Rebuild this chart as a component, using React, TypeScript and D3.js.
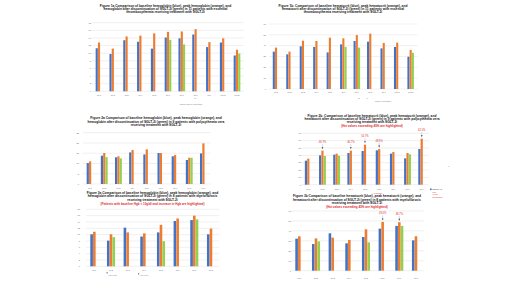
import React from "react";
import * as d3 from "d3";

const BLUE = "#4472C4";
const ORANGE = "#ED7D31";
const GREEN = "#92D050";
const RED = "#E0282E";

const pts11 = ["Pt 1", "Pt 2", "Pt 3", "Pt 4", "Pt 5", "Pt 6", "Pt 7", "Pt 8", "Pt 9", "Pt 10", "Pt 11"];
const pts9 = ["Pt 1", "Pt 2", "Pt 3", "Pt 4", "Pt 5", "Pt 6", "Pt 7", "Pt 8", "Pt 9"];
const pts8 = ["Pt 1", "Pt 2", "Pt 3", "Pt 4", "Pt 5", "Pt 6", "Pt 7", "Pt 8"];

// Figure 1a – hemoglobin, essential thrombocythemia
const hgbETBaseline = [11.3, 9.8, 13.4, 13.0, 11.2, 14.1, 13.9, 14.9, 11.6, 12.8, 9.4];
const hgbETPeak = [12.8, 11.2, 14.4, 14.6, 15.2, 15.6, 15.7, 16.3, 12.9, 13.9, 10.9];
const hgbETAfter = [null, null, null, null, null, 13.5, 12.3, null, null, null, 9.9];

// Figure 1b – hematocrit, essential thrombocythemia
const hctETBaseline = [34.5, 32.0, 39.4, 38.8, 33.8, 41.2, 44.3, 43.7, 37.5, 38.8, 29.8];
const hctETPeak = [38.2, 34.5, 44.6, 44.3, 47.4, 46.8, 49.8, 51.1, 42.5, 42.8, 36.0];
const hctETAfter = [null, null, null, null, null, 38.8, 38.2, null, null, null, 33.5];

// Figure 2a – hemoglobin, polycythemia vera
const hgbPVBaseline = [10.2, 13.8, 13.0, 15.4, 14.4, 15.1, 13.5, 11.7, 14.9];
const hgbPVPeak = [11.0, 15.1, 13.5, 16.6, 16.9, 15.1, 14.1, 12.8, 19.8];
const hgbPVAfter = [null, 13.1, 12.5, null, null, null, null, 12.8, null];

// Figure 2b – hematocrit, polycythemia vera
const hctPVBaseline = [32.7, 40.0, 40.9, 43.2, 45.9, 46.8, 42.3, 35.9, 48.6];
const hctPVPeak = [35.5, 46.4, 42.3, 46.4, 54.5, 48.6, 44.5, 43.2, 62.7];
const hctPVAfter = [null, 39.1, 39.5, null, null, null, null, 41.4, null];
const hctPVLabels = [null, "46.7%", null, "46.7%", "54.7%", "48.9%", null, null, "62.5%"];

// Figure 3a – hemoglobin, myelofibrosis
const hgbMFBaseline = [10.1, 8.1, 12.2, 9.4, 10.7, 14.3, 14.6, 10.1];
const hgbMFPeak = [10.9, 10.1, 10.7, 10.4, 13.1, 15.1, 16.0, 11.9];
const hgbMFAfter = [null, 9.2, null, null, 7.9, null, 14.8, null];

// Figure 3b – hematocrit, myelofibrosis
const hctMFBaseline = [32.2, 26.8, 37.6, 27.5, 33.9, 42.3, 45.0, 30.5];
const hctMFPeak = [34.6, 32.5, 33.2, 30.9, 41.6, 49.0, 48.7, 34.6];
const hctMFAfter = [null, 29.5, null, null, 28.5, null, 45.0, null];
const hctMFLabels = [null, null, null, null, null, "49.0%", "48.7%", null];

const FONT = "'Liberation Sans', Arial, sans-serif";

type PanelProps = {
  cats: string[];
  series: (number | null)[][];
  labels?: (string | null)[];
  x0: number; x1: number; yTop: number; yBottom: number;
  yMax: number; yStep: number;
  yLabelX: number; xLabelY: number;
  titleLines: string[]; titleY: number[]; titleX: number;
  red?: string; redY?: number;
};

function Panel(p: PanelProps) {
  const x = d3.scaleBand<string>().domain(p.cats).range([p.x0, p.x1]).paddingInner(0.5).paddingOuter(0.25);
  const inner = d3.scaleBand<number>().domain([0, 1, 2]).range([0, x.bandwidth()]).padding(0.05);
  const y = d3.scaleLinear().domain([0, p.yMax]).range([p.yBottom, p.yTop]);
  const ticks = d3.range(0, p.yMax + 0.001, p.yStep);
  const colors = [BLUE, ORANGE, GREEN];
  return (
    <g>
      {p.titleLines.map((t, i) => (
        <text key={i} x={p.titleX} y={p.titleY[i]} textAnchor="middle" fontSize={3.25} fontWeight="bold" fill="#111" fontFamily={FONT}>{t}</text>
      ))}
      {p.red && (
        <text x={p.titleX} y={p.redY} textAnchor="middle" fontSize={3.0} fontWeight="bold" fill={RED} fontFamily={FONT}>{p.red}</text>
      )}
      {ticks.map((t) => (
        <g key={t}>
          <line x1={p.x0} x2={p.x1} y1={y(t)} y2={y(t)} stroke="#d9d9d9" strokeWidth={0.4} />
          <text x={p.yLabelX} y={y(t) + 0.8} textAnchor="end" fontSize={2.3} fill="#666" fontFamily={FONT}>{t}</text>
        </g>
      ))}
      {p.cats.map((c, i) => (
        <g key={c}>
          {p.series.map((s, k) => {
            const v = s[i];
            if (v == null) return null;
            return (
              <rect key={k} x={(x(c) as number) + (inner(k) as number)} y={y(v)} width={inner.bandwidth()} height={y(0) - y(v)} fill={colors[k]} />
            );
          })}
          <text x={(x(c) as number) + x.bandwidth() / 2} y={p.xLabelY} textAnchor="middle" fontSize={2.2} fill="#666" fontFamily={FONT}>{c}</text>
          {p.labels && p.labels[i] && (() => {
            const top = y(Math.max(p.series[0][i] ?? 0, p.series[1][i] ?? 0));
            const cx = (x(c) as number) + (inner(1) as number) + inner.bandwidth() / 2;
            return (
              <g>
                <text x={cx} y={top - 7.5} textAnchor="middle" fontSize={2.6} fill={RED} fontFamily={FONT}>{p.labels![i]}</text>
                <line x1={cx} x2={cx} y1={top - 6.5} y2={top - 3} stroke="#888" strokeWidth={0.3} />
                <path d={`M${cx - 0.9},${top - 3.4} L${cx + 0.9},${top - 3.4} L${cx},${top - 1.6} Z`} fill="#2b3a67" />
              </g>
            );
          })()}
        </g>
      ))}
    </g>
  );
}

export default function App() {
  return (
    <svg width={520} height={292} style={{ position: "absolute", left: 0, top: 0, background: "#fff" }}>
      <rect width={520} height={292} fill="#fff" />
      <Panel
        cats={pts11} series={[hgbETBaseline, hgbETPeak, hgbETAfter]}
        x0={92.1} x1={243.9} yTop={22.7} yBottom={91.3} yMax={18} yStep={2}
        yLabelX={91} xLabelY={95.5} titleX={165.5} titleY={[6.7, 10, 13.3]}
        titleLines={[
          "Figure 1a Comparison of baseline hemoglobin (blue), peak hemoglobin (orange), and",
          "hemoglobin after discontinuation of SGLT-2i (green) in 11 patients with essential",
          "thrombocythemia receiving treatment with SGLT-2i",
        ]}
      />
      <Panel
        cats={pts11} series={[hctETBaseline, hctETPeak, hctETAfter]}
        x0={269.3} x1={417.4} yTop={24} yBottom={89} yMax={60} yStep={10}
        yLabelX={266} xLabelY={92.5} titleX={343} titleY={[7.3, 10, 12.7]}
        titleLines={[
          "Figure 1b. Comparison of baseline hematocrit (blue), peak hematocrit (orange), and",
          "hematocrit after discontinuation of SGLT-2i (green) in 11 patients with essential",
          "thrombocythemia receiving treatment with SGLT-2i",
        ]}
      />
      <Panel
        cats={pts9} series={[hgbPVBaseline, hgbPVPeak, hgbPVAfter]}
        x0={83} x1={210.5} yTop={132.7} yBottom={184} yMax={25} yStep={5}
        yLabelX={79} xLabelY={189} titleX={156} titleY={[119.3, 122.7, 126.3]}
        titleLines={[
          "Figure 2a Comparison of baseline hemoglobin (blue), peak hemoglobin (orange), and",
          "hemoglobin after discontinuation of SGLT-2i (green) in 9 patients with polycythemia vera",
          "receiving treatment with SGLT-2i",
        ]}
      />
      <Panel
        cats={pts9} series={[hctPVBaseline, hctPVPeak, hctPVAfter]} labels={hctPVLabels}
        x0={301.2} x1={428.8} yTop={133.3} yBottom={184.7} yMax={70} yStep={10}
        yLabelX={301} xLabelY={189.5} titleX={372} titleY={[116.7, 120, 123.3]}
        titleLines={[
          "Figure 2b. Comparison of baseline hematocrit (blue), peak hematocrit (orange), and",
          "hematocrit after discontinuation of SGLT-2i (green) in 9 patients with polycythemia vera",
          "receiving treatment with SGLT-2i",
        ]}
        red="(Hct values exceeding 45% are highlighted)" redY={126.6}
      />
      <Panel
        cats={pts8} series={[hgbMFBaseline, hgbMFPeak, hgbMFAfter]}
        x0={86} x1={219.3} yTop={209.3} yBottom={266.3} yMax={18} yStep={2}
        yLabelX={80} xLabelY={271} titleX={152.5} titleY={[194, 197.3, 201]}
        titleLines={[
          "Figure 3a Comparison of baseline hemoglobin (blue), peak hemoglobin (orange), and",
          "hemoglobin after discontinuation of SGLT-2i (green) in 8 patients with myelofibrosis",
          "receiving treatment with SGLT-2i",
        ]}
        red="(Patients with baseline Hgb < 10g/dl and increase in Hgb are highlighted)" redY={204.8}
      />
      <Panel
        cats={pts8} series={[hctMFBaseline, hctMFPeak, hctMFAfter]} labels={hctMFLabels}
        x0={291} x1={424.3} yTop={211} yBottom={270.7} yMax={60} yStep={10}
        yLabelX={291} xLabelY={278.5} titleX={357} titleY={[197.3, 200.7, 204.3]}
        titleLines={[
          "Figure 3b Comparison of baseline hematocrit (blue), peak hematocrit (orange), and",
          "hematocrit after discontinuation of SGLT-2i (green) in 8 patients with myelofibrosis",
          "receiving treatment with SGLT-2i",
        ]}
        red="(Hct values exceeding 45% are highlighted)" redY={208.3}
      />
      {/* small legend remnants */}
      <text x={195} y={98.5} fontSize={2} fill="#555" fontFamily={FONT} textAnchor="middle">a</text>
      <text x={191} y={104.5} fontSize={1.6} fill="#777" fontFamily={FONT} textAnchor="middle">baseline SGLT-2i Hgb threshold</text>
      <text x={359} y={98.5} fontSize={2} fill="#555" fontFamily={FONT} textAnchor="middle">b</text>
      <text x={367} y={98.5} fontSize={2} fill="#555" fontFamily={FONT} textAnchor="middle">c</text>
      <text x={383} y={102} fontSize={1.6} fill="#777" fontFamily={FONT} textAnchor="middle">baseline Hct threshold</text>
      <text x={372} y={193.5} fontSize={1.8} fill={RED} fontFamily={FONT}>↑ Hematocrit</text>
      <rect x={430} y={188.5} width={1.6} height={1.6} fill={BLUE} />
      <text x={432.5} y={190} fontSize={1.7} fill="#333" fontFamily={FONT}>Baseline Hct</text>
      <text x={432.5} y={192.5} fontSize={1.5} fill={RED} fontFamily={FONT}>Peak</text>
      <text x={432.5} y={195} fontSize={1.5} fill={RED} fontFamily={FONT}>Hct after</text>
      <text x={432.5} y={197.5} fontSize={1.5} fill={RED} fontFamily={FONT}>discontinuation</text>
      <text x={448} y={167} fontSize={1.6} fill="#777" fontFamily={FONT}>%</text>
      <rect x={106.5} y={272.2} width={1.2} height={1.2} fill={BLUE} />
      <text x={108.5} y={276} fontSize={1.6} fill="#777" fontFamily={FONT}>Hgb ≥1 g/dl</text>
      <rect x={138} y={273.2} width={1.2} height={1.2} fill={BLUE} />
      <text x={140} y={275.5} fontSize={1.6} fill="#777" fontFamily={FONT}>Hgb ≥1 g/dl</text>
    </svg>
  );
}
